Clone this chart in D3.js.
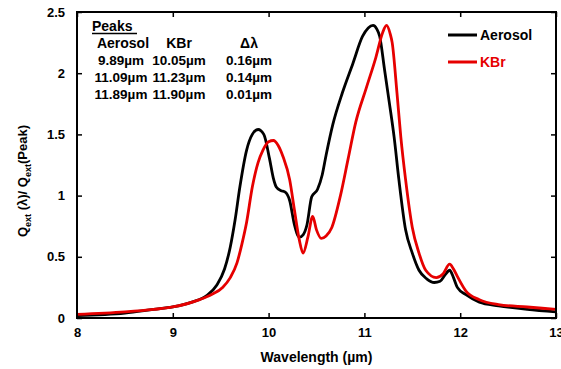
<!DOCTYPE html>
<html>
<head>
<meta charset="utf-8">
<script src="https://cdn.jsdelivr.net/npm/d3@7"></script>
<style>
  body { margin: 0; background: white; }
  text { font-family: "Liberation Sans", Arial, sans-serif; font-weight: bold; }
</style>
</head>
<body>
<div id="chart-area"></div>
<script>
// *********************
// Data
// *********************

const aerosolWl = [8.0, 8.5, 8.8, 9.0, 9.2, 9.35, 9.46, 9.54, 9.6, 9.65, 9.70, 9.77, 9.83, 9.89, 9.95,
  10.01, 10.05, 10.08, 10.13, 10.17, 10.22, 10.27, 10.32, 10.36, 10.40, 10.45, 10.51, 10.56, 10.60,
  10.67, 10.77, 10.88, 10.98, 11.04, 11.09, 11.13, 11.16, 11.21, 11.26, 11.31, 11.36, 11.43, 11.50,
  11.57, 11.65, 11.73, 11.79, 11.84, 11.89, 11.93, 11.97, 12.06, 12.2, 12.4, 12.7, 13.0];
const aerosolQ = [0.02, 0.04, 0.07, 0.09, 0.13, 0.18, 0.27, 0.40, 0.58, 0.80, 1.07, 1.37, 1.50, 1.54, 1.50,
  1.30, 1.14, 1.07, 1.04, 1.03, 0.96, 0.76, 0.66, 0.68, 0.76, 0.99, 1.05, 1.17, 1.33,
  1.58, 1.84, 2.08, 2.30, 2.37, 2.39, 2.36, 2.30, 2.03, 1.76, 1.48, 1.13, 0.72, 0.53,
  0.39, 0.32, 0.29, 0.30, 0.35, 0.39, 0.33, 0.25, 0.19, 0.13, 0.10, 0.07, 0.05];

const kbrWl = [8.0, 8.5, 8.8, 9.0, 9.28, 9.4, 9.52, 9.6, 9.67, 9.72, 9.77, 9.83, 9.89, 9.94, 10.0,
  10.05, 10.10, 10.15, 10.22, 10.27, 10.32, 10.36, 10.41, 10.46, 10.50, 10.55, 10.60, 10.66, 10.75,
  10.83, 10.91, 11.02, 11.12, 11.19, 11.23, 11.27, 11.29, 11.34, 11.38, 11.43, 11.50, 11.57, 11.64,
  11.75, 11.82, 11.89, 11.93, 11.97, 12.06, 12.2, 12.4, 12.7, 13.0];
const kbrQ = [0.03, 0.05, 0.07, 0.09, 0.15, 0.19, 0.25, 0.33, 0.45, 0.60, 0.78, 1.07, 1.27, 1.37, 1.44,
  1.45, 1.41, 1.32, 1.13, 0.88, 0.64, 0.53, 0.66, 0.83, 0.72, 0.65, 0.67, 0.74, 1.00,
  1.30, 1.60, 1.88, 2.13, 2.33, 2.39, 2.32, 2.25, 1.84, 1.48, 1.13, 0.74, 0.53, 0.39,
  0.33, 0.36, 0.44, 0.40, 0.34, 0.22, 0.15, 0.11, 0.09, 0.07];

const xTicks = [8, 9, 10, 11, 12, 13];
const yTicks = [0, 0.5, 1, 1.5, 2, 2.5];

const seriesNames = ["Aerosol", "KBr"];
const seriesColors = ["#000000", "#e60000"];

const peakHeaders = ["Aerosol", "KBr", "\u0394\u03bb"];
const peakRows = [
  ["9.89\u00b5m", "10.05\u00b5m", "0.16\u00b5m"],
  ["11.09\u00b5m", "11.23\u00b5m", "0.14\u00b5m"],
  ["11.89\u00b5m", "11.90\u00b5m", "0.01\u00b5m"]
];

// *********************
// Setup
// *********************

const W = 561, H = 369;
const margin = {left: 77, right: 5, top: 12, bottom: 51};
const width = W - margin.left - margin.right;
const height = H - margin.top - margin.bottom;

const svg = d3.select("#chart-area").append("svg")
  .attr("width", W)
  .attr("height", H);

const g = svg.append("g")
  .attr("transform", "translate(" + margin.left + "," + margin.top + ")");

const x = d3.scaleLinear().domain([8, 13]).range([0, width]);
const y = d3.scaleLinear().domain([0, 2.5]).range([height, 0]);

// *********************
// Axes (inward ticks on all sides)
// *********************

const tickLen = 5;

g.append("g").attr("class", "x axis")
  .attr("transform", "translate(0," + height + ")")
  .call(d3.axisBottom(x).tickValues(xTicks).tickSize(-tickLen).tickPadding(10).tickFormat(d3.format("d")));
g.append("g").attr("class", "x2 axis")
  .call(d3.axisTop(x).tickValues(xTicks).tickSize(-tickLen).tickFormat(""));
g.append("g").attr("class", "y axis")
  .call(d3.axisLeft(y).tickValues(yTicks).tickSize(-tickLen).tickPadding(12).tickFormat(d => d));
g.append("g").attr("class", "y2 axis")
  .attr("transform", "translate(" + width + ",0)")
  .call(d3.axisRight(y).tickValues(yTicks).tickSize(-tickLen).tickFormat(""));

g.selectAll(".axis path").remove();
g.selectAll(".axis line").attr("stroke", "black").attr("stroke-width", 1.5);
g.selectAll(".axis text").attr("fill", "black").attr("font-size", "13px");

// Curves
const line = d3.line()
  .x(d => x(d[0]))
  .y(d => y(d[1]))
  .curve(d3.curveMonotoneX);

const aerosolData = aerosolWl.map((w, i) => [w, aerosolQ[i]]);
const kbrData = kbrWl.map((w, i) => [w, kbrQ[i]]);

g.append("path")
  .datum(aerosolData)
  .attr("fill", "none")
  .attr("stroke", seriesColors[0])
  .attr("stroke-width", 2.8)
  .attr("d", line);

g.append("path")
  .datum(kbrData)
  .attr("fill", "none")
  .attr("stroke", seriesColors[1])
  .attr("stroke-width", 2.8)
  .attr("d", line);

// Frame
g.append("rect")
  .attr("width", width)
  .attr("height", height)
  .attr("fill", "none")
  .attr("stroke", "black")
  .attr("stroke-width", 2);

// Axis labels
svg.append("text")
  .attr("x", margin.left + width / 2)
  .attr("y", 362)
  .attr("text-anchor", "middle")
  .attr("font-size", "14px")
  .text("Wavelength (\u00b5m)");

const yTitle = svg.append("text")
  .attr("transform", "translate(27," + 181 + ") rotate(-90)")
  .attr("text-anchor", "middle")
  .attr("font-size", "13px");
yTitle.append("tspan").text("Q");
yTitle.append("tspan").attr("font-size", "9px").attr("dy", 4).text("ext");
yTitle.append("tspan").attr("dy", -4).text(" (\u03bb)/ Q");
yTitle.append("tspan").attr("font-size", "9px").attr("dy", 4).text("ext");
yTitle.append("tspan").attr("dy", -4).text("(Peak)");

// Legend
const legend = svg.append("g");
seriesNames.forEach((name, i) => {
  const row = legend.append("g").attr("transform", "translate(448," + (35 + i * 27) + ")");
  row.append("line")
    .attr("x1", 0).attr("x2", 29)
    .attr("stroke", seriesColors[i])
    .attr("stroke-width", 3);
  row.append("text")
    .attr("x", 32).attr("y", 5)
    .attr("font-size", "14px")
    .attr("fill", seriesColors[i])
    .text(name);
});

// Peaks table
const table = svg.append("g");
table.append("text")
  .attr("x", 92).attr("y", 31)
  .attr("font-size", "14px")
  .text("Peaks");
table.append("line")
  .attr("x1", 92).attr("x2", 137)
  .attr("y1", 33.5).attr("y2", 33.5)
  .attr("stroke", "black").attr("stroke-width", 1.3);

const colX = [121, 179, 249];
peakHeaders.forEach((h, j) => {
  table.append("text")
    .attr("x", colX[j] + (j === 0 ? 2 : 0)).attr("y", 48)
    .attr("text-anchor", "middle")
    .attr("font-size", "14px")
    .text(h);
});
peakRows.forEach((r, i) => {
  r.forEach((v, j) => {
    table.append("text")
      .attr("x", colX[j]).attr("y", 65 + i * 17)
      .attr("text-anchor", "middle")
      .attr("font-size", "13.5px")
      .text(v);
  });
});
</script>
</body>
</html>
